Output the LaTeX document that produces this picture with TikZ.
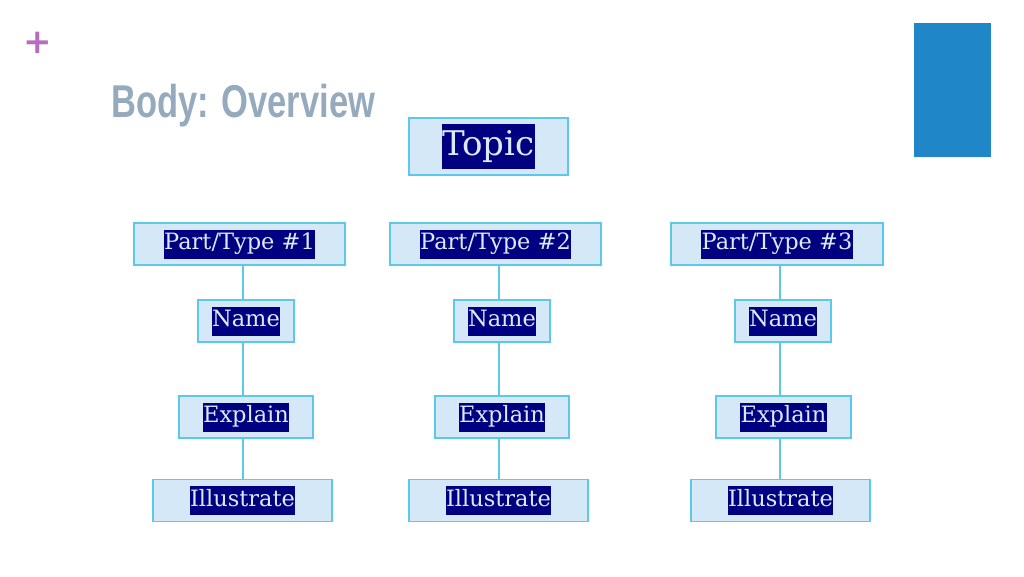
\documentclass[tikz,border=0pt]{standalone}
\usepackage{fontspec}
\setmainfont{DejaVu Serif}
\newfontfamily\titlefont[FakeStretch=0.75]{Liberation Sans}
\newfontfamily\plusfont{DejaVu Sans}
\definecolor{boxfill}{HTML}{D5E8F7}
\definecolor{boxline}{HTML}{5CC8EA}
\definecolor{hlnavy}{HTML}{000080}
\definecolor{hltext}{HTML}{DCEAF7}
\definecolor{titlecol}{HTML}{95AABD}
\definecolor{plumcol}{HTML}{B86BBF}
\definecolor{barblue}{HTML}{1F86C8}
\newcommand\hlt[1]{\raisebox{-1.5pt}{\setlength\fboxsep{0.5pt}\colorbox{hlnavy}{\color{hltext}\strut #1}}}
\tikzset{
  box/.style={draw=boxline, line width=1.3pt, fill=boxfill, inner sep=0pt, minimum height=42pt, font=\fontsize{22.5}{28}\selectfont},
  link/.style={draw=boxline, line width=1.2pt}
}
\begin{document}
\begin{tikzpicture}[x=1pt,y=-1pt]
\useasboundingbox (0,0) rectangle (1024,576);
\fill[white] (0,0) rectangle (1024,576);
\fill[barblue] (914,23) rectangle (991,157);
\node[text=plumcol, font=\fontsize{34}{34}\selectfont\bfseries\plusfont, inner sep=0pt] (plus) at (38,43) {+};
\node[text=titlecol, font=\fontsize{46}{46}\selectfont\bfseries\titlefont, anchor=base west, inner sep=0pt] (title) at (111,117) {Body: Overview};
\node[box, minimum width=159pt, minimum height=57pt, font=\fontsize{34}{44}\selectfont] (topic) at (488.5,146.5) {\hlt{Topic}};
\node[box, minimum width=211pt] (part1) at (239.5,244) {\hlt{Part/Type \#1}};
\node[box, minimum width=211pt] (part2) at (495.5,244) {\hlt{Part/Type \#2}};
\node[box, minimum width=212pt] (part3) at (777,244) {\hlt{Part/Type \#3}};
\node[box, minimum width=96pt] (name1) at (246,321) {\hlt{Name}};
\node[box, minimum width=96pt] (name2) at (502,321) {\hlt{Name}};
\node[box, minimum width=96pt] (name3) at (783,321) {\hlt{Name}};
\node[box, minimum width=134pt] (expl1) at (246,417) {\hlt{Explain}};
\node[box, minimum width=134pt] (expl2) at (502,417) {\hlt{Explain}};
\node[box, minimum width=135pt] (expl3) at (783.5,417) {\hlt{Explain}};
\node[box, minimum width=179pt] (illu1) at (242.5,500.5) {\hlt{Illustrate}};
\node[box, minimum width=179pt] (illu2) at (498.5,500.5) {\hlt{Illustrate}};
\node[box, minimum width=179pt] (illu3) at (780.5,500.5) {\hlt{Illustrate}};
\foreach \c/\x in {1/243,2/499,3/780}{
  \draw[link] (part\c.south -| \x,0) -- (name\c.north -| \x,0);
  \draw[link] (name\c.south -| \x,0) -- (expl\c.north -| \x,0);
  \draw[link] (expl\c.south -| \x,0) -- (illu\c.north -| \x,0);
}
\end{tikzpicture}
\end{document}
